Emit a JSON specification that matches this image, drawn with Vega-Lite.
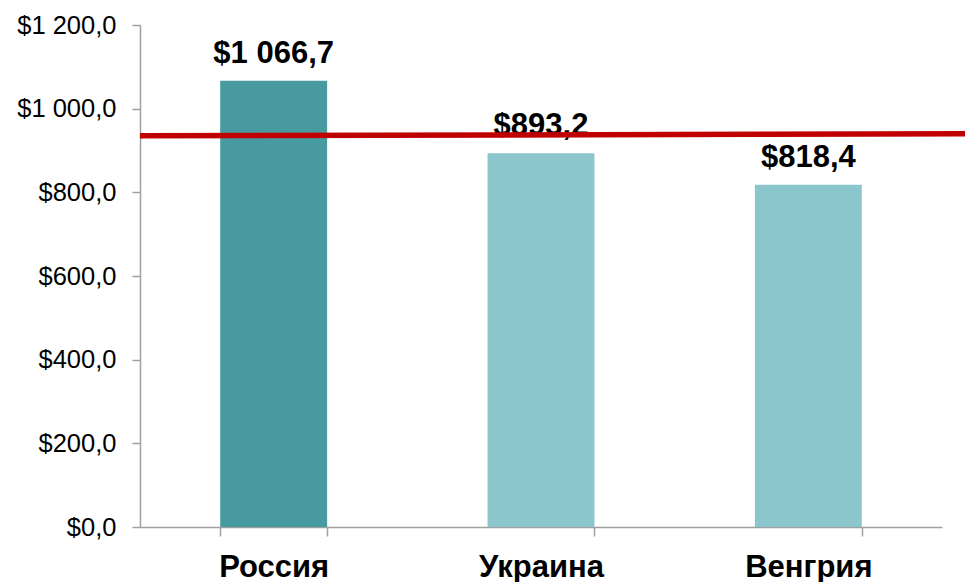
{
  "$schema": "https://vega.github.io/schema/vega-lite/v6.json",
  "width": 802,
  "height": 502,
  "autosize": "none",
  "padding": {"left": 140, "top": 25, "right": 23, "bottom": 55},
  "background": "white",
  "config": {
    "view": {"stroke": null},
    "font": "Liberation Sans",
    "locale": {"number": {"decimal": ",", "thousands": " ", "grouping": [3], "currency": ["$", ""]}}
  },
  "datasets": {
    "bars": [
      {"country": "Россия", "value": 1066.7},
      {"country": "Украина", "value": 893.2},
      {"country": "Венгрия", "value": 818.4}
    ],
    "ref": [
      {"start": 0, "end": 1.0287, "v1": 935, "v2": 940}
    ]
  },
  "layer": [
    {
      "data": {"name": "bars"},
      "layer": [
        {
          "mark": {"type": "bar"},
          "encoding": {
            "x": {
              "field": "country", "type": "nominal", "sort": null,
              "scale": {"paddingInner": 0.6, "paddingOuter": 0.3},
              "axis": {
                "title": null, "labelAngle": 0, "labelFont": "Liberation Sans",
                "labelFontSize": 31, "labelFontWeight": "bold", "labelColor": "black",
                "labelBaseline": "alphabetic", "labelPadding": 40,
                "tickSize": 9, "tickBand": "extent", "tickColor": "#A0A0A0", "tickWidth": 1.5,
                "domainColor": "#A0A0A0", "domainWidth": 1.5
              }
            },
            "y": {
              "field": "value", "type": "quantitative",
              "scale": {"domain": [0, 1200], "nice": false},
              "axis": {
                "title": null, "values": [0, 200, 400, 600, 800, 1000, 1200],
                "format": "$,.1f", "grid": false,
                "labelFont": "Liberation Sans", "labelFontSize": 25.5, "labelColor": "black",
                "labelPadding": 16, "tickSize": 8, "tickColor": "#A0A0A0", "tickWidth": 1.5,
                "domainColor": "#A0A0A0", "domainWidth": 1.5
              }
            },
            "color": {
              "field": "country", "type": "nominal",
              "scale": {"domain": ["Россия", "Украина", "Венгрия"], "range": ["#479AA0", "#8BC6CD", "#8BC6CD"]},
              "legend": null
            }
          }
        },
        {
          "mark": {"type": "text", "baseline": "alphabetic", "dy": -18, "fontSize": 31, "fontWeight": "bold", "font": "Liberation Sans", "color": "black"},
          "encoding": {
            "x": {"field": "country", "type": "nominal", "sort": null},
            "y": {"field": "value", "type": "quantitative"},
            "text": {"field": "value", "type": "quantitative", "format": "$,.1f"}
          }
        }
      ]
    },
    {
      "data": {"name": "ref"},
      "mark": {"type": "rule", "color": "#C00000", "strokeWidth": 5.5, "clip": false},
      "encoding": {
        "x": {"field": "start", "type": "quantitative", "scale": {"domain": [0, 1], "nice": false, "zero": false}, "axis": null},
        "x2": {"field": "end"},
        "y": {"field": "v1", "type": "quantitative"},
        "y2": {"field": "v2"}
      }
    }
  ],
  "resolve": {"scale": {"x": "independent"}}
}
